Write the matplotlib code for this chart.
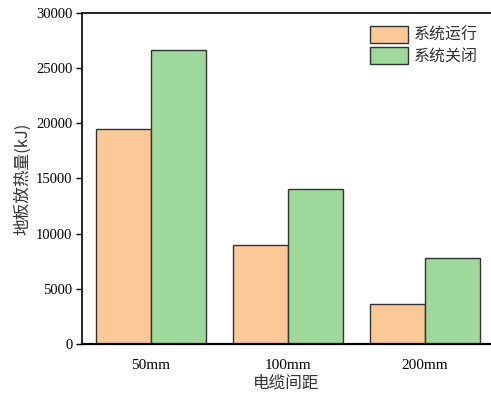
import numpy as np
import matplotlib as mpl
mpl.use("Agg")
import matplotlib.pyplot as plt

# -- DATA ---------------------------------------------------------------------
spacings = ["50mm", "100mm", "200mm"]
running = [19450, 8970, 3650]
stopped = [26620, 14030, 7770]
series_names = ["系统运行", "系统关闭"]
y_ticks = [0, 5000, 10000, 15000, 20000, 25000, 30000]

cjk = ["Noto Sans CJK SC", "DejaVu Sans"]
serif = "Liberation Serif"

fig = plt.figure(figsize=(4.91, 3.94), dpi=100)
ax = fig.add_axes([0.167, 0.127, 0.833, 0.840])

x = np.arange(len(spacings))
w = 0.4
ax.bar(x - w / 2, running, width=w, color="#FBC998", edgecolor="#333333",
       linewidth=1.0, label=series_names[0])
ax.bar(x + w / 2, stopped, width=w, color="#9ED89B", edgecolor="#333333",
       linewidth=1.0, label=series_names[1])

# -- AXES -----------------------------------------------------------------------
ax.set_xlim(-0.5, 2.48)
ax.set_ylim(0, 30000)
ax.set_xticks(x)
ax.set_xticklabels(spacings, fontfamily=serif, fontsize=11)
ax.set_yticks(y_ticks)
ax.set_yticklabels([str(v) for v in y_ticks], fontfamily=serif, fontsize=10.5)
ax.tick_params(axis="x", length=0, pad=11)
ax.tick_params(axis="y", direction="out", length=4, width=1.0, pad=3)

for side in ("left", "top", "bottom"):
    ax.spines[side].set_linewidth(1.2)
ax.spines["bottom"].set_linewidth(1.6)
ax.spines["right"].set_visible(False)

ax.set_xlabel("电缆间距", family=cjk, fontsize=12, color="#333333", labelpad=2)
ax.set_ylabel("地板放热量(kJ)", family=cjk, fontsize=12, color="#333333", labelpad=3)

leg = ax.legend(loc="upper right", bbox_to_anchor=(0.968, 0.962), frameon=False,
                prop={"family": cjk, "size": 11.5}, handlelength=2.4,
                handleheight=1.3, handletextpad=0.35, labelspacing=0.18,
                borderaxespad=0.0, borderpad=0.0)
for t in leg.get_texts():
    t.set_color("#333333")

fig.savefig("out.png", dpi=100)
